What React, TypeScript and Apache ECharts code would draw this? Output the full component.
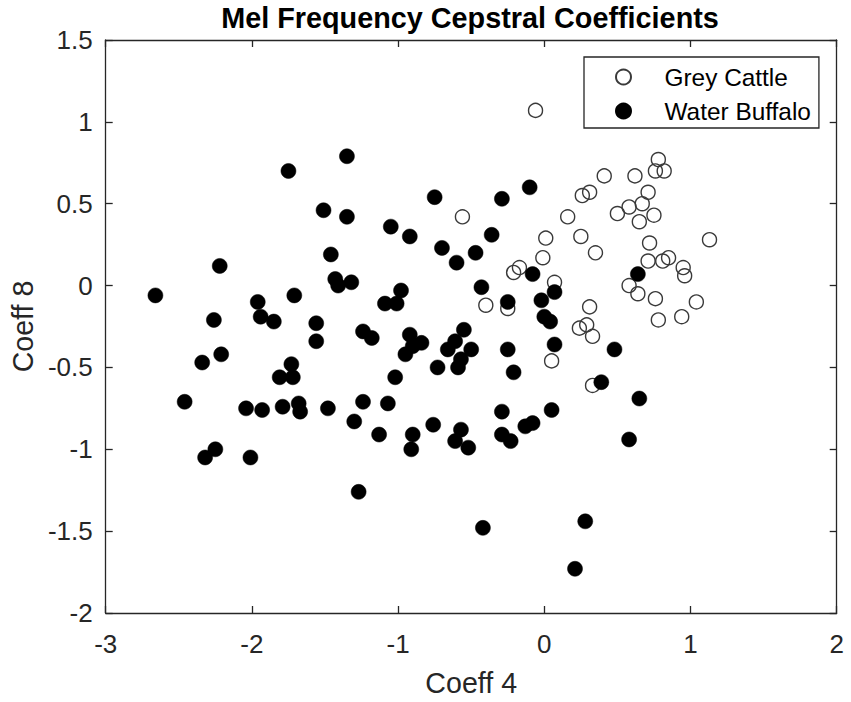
import React, { useEffect, useRef } from "react";
import * as echarts from "echarts";

const TITLE = "Mel Frequency Cepstral Coefficients";
const X_NAME = "Coeff 4";
const Y_NAME = "Coeff 8";
const SERIES_NAMES = ["Grey Cattle", "Water Buffalo"];

const X_MIN = -3;
const X_MAX = 2;
const X_STEP = 1;
const Y_MIN = -2;
const Y_MAX = 1.5;
const Y_STEP = 0.5;

const greyX = [
  -0.06, -0.56, -0.4, -0.25, -0.21, -0.17, 0.07, 0.05, 0.24, 0.26, 0.31, 0.25,
  0.16, 0.01, -0.01, 0.78, 0.76, 0.82, 0.41, 0.62, 0.71, 0.67, 0.58, 0.5, 0.65,
  0.75, 0.35, 0.72, 1.13, 0.71, 0.81, 0.85, 0.95, 0.96, 0.58, 0.64, 0.76, 1.04,
  0.78, 0.94, 0.31, 0.29, 0.33, 0.33,
];
const greyY = [
  1.07, 0.42, -0.12, -0.14, 0.08, 0.11, 0.02, -0.46, -0.26, 0.55, 0.57, 0.3,
  0.42, 0.29, 0.17, 0.77, 0.7, 0.7, 0.67, 0.67, 0.57, 0.5, 0.48, 0.44, 0.39,
  0.43, 0.2, 0.26, 0.28, 0.15, 0.15, 0.17, 0.11, 0.06, 0.0, -0.05, -0.08, -0.1,
  -0.21, -0.19, -0.13, -0.24, -0.31, -0.61,
];

const buffaloX = [
  -1.35, -1.75, -1.51, -1.35, -1.46, -1.43, -1.41, -1.32, -2.22, -2.66, -1.96,
  -1.71, -1.94, -1.85, -2.26, -1.56, -1.56, -2.34, -2.21, -1.73, -1.81, -1.72,
  -2.46, -2.04, -1.93, -1.79, -1.68, -1.67, -1.48, -1.3, -2.25, -2.32, -2.01,
  -0.75, -0.29, -0.1, -1.05, -0.92, -0.7, -0.6, -0.47, -0.36, -0.43, -0.25,
  -0.08, -0.02, 0.0, 0.04, 0.07, 0.07, -1.24, -1.18, -0.92, -0.84, -0.95, -0.9,
  -1.09, -1.01, -0.98, -0.55, -0.61, -0.66, -0.5, -0.57, -0.59, -0.73, -1.02,
  -0.25, -0.21, -1.24, -1.07, -1.13, -0.9, -0.91, -0.76, -0.57, -0.61, -0.52,
  -0.29, -0.29, -0.23, -0.13, -0.08, 0.05, 0.39, 0.48, 0.65, 0.64, 0.58, -0.42,
  0.28, 0.21, -1.27,
];
const buffaloY = [
  0.79, 0.7, 0.46, 0.42, 0.19, 0.04, 0.0, 0.02, 0.12, -0.06, -0.1, -0.06, -0.19,
  -0.22, -0.21, -0.23, -0.34, -0.47, -0.42, -0.48, -0.56, -0.56, -0.71, -0.75,
  -0.76, -0.74, -0.72, -0.77, -0.75, -0.83, -1.0, -1.05, -1.05, 0.54, 0.53, 0.6,
  0.36, 0.3, 0.23, 0.14, 0.2, 0.31, -0.01, -0.1, 0.07, -0.09, -0.19, -0.22,
  -0.04, -0.36, -0.28, -0.32, -0.3, -0.35, -0.42, -0.37, -0.11, -0.11, -0.03,
  -0.27, -0.34, -0.39, -0.39, -0.45, -0.5, -0.5, -0.56, -0.39, -0.53, -0.71,
  -0.72, -0.91, -0.91, -1.0, -0.85, -0.88, -0.95, -0.99, -0.77, -0.91, -0.95,
  -0.86, -0.84, -0.76, -0.59, -0.39, -0.69, 0.07, -0.94, -1.48, -1.44, -1.73,
  -1.26,
];

const FONT = "'Liberation Sans', Arial, Helvetica, sans-serif";
const AXIS_COLOR = "#262626";

function pairs(xs: number[], ys: number[]) {
  return xs.map((x, i) => [x, ys[i]]);
}

export default function App() {
  const ref = useRef<HTMLDivElement>(null);

  useEffect(() => {
    if (!ref.current) return;
    const chart = echarts.init(ref.current, undefined, { renderer: "svg" });

    const axisLine = { show: true, onZero: false, lineStyle: { color: AXIS_COLOR, width: 1.3 } };
    const axisTick = { show: true, inside: true, length: 7, lineStyle: { color: AXIS_COLOR, width: 1.3 } };

    const xBase = {
      type: "value" as const,
      min: X_MIN,
      max: X_MAX,
      interval: X_STEP,
      axisLine,
      axisTick,
      splitLine: { show: false },
    };
    const yBase = {
      type: "value" as const,
      min: Y_MIN,
      max: Y_MAX,
      interval: Y_STEP,
      axisLine,
      axisTick,
      splitLine: { show: false },
    };

    chart.setOption({
      animation: false,
      backgroundColor: "#ffffff",
      textStyle: { fontFamily: FONT },
      grid: { left: 101.7, right: 14.3, top: 40, bottom: 89, containLabel: false },
      graphic: [
        {
          type: "text",
          x: 470,
          y: 18,
          style: {
            text: TITLE,
            fill: "#000000",
            font: `bold 28.8px ${FONT}`,
            align: "center",
            verticalAlign: "middle",
          },
        },
      ],
      legend: {
        orient: "vertical",
        left: 584,
        top: 57,
        padding: [8, 8, 5, 31],
        itemGap: 10,
        itemWidth: 72,
        itemHeight: 15,
        backgroundColor: "#ffffff",
        borderColor: AXIS_COLOR,
        borderWidth: 1.3,
        borderRadius: 0,
        data: SERIES_NAMES,
        textStyle: { fontSize: 24.4, color: "#000000", fontFamily: FONT },
      },
      xAxis: [
        {
          ...xBase,
          position: "bottom",
          axisLabel: { show: true, fontSize: 26, color: AXIS_COLOR, margin: 18, fontFamily: FONT },
          name: X_NAME,
          nameLocation: "middle",
          nameGap: 55,
          nameTextStyle: { fontSize: 28.6, color: AXIS_COLOR, fontFamily: FONT },
        },
        {
          ...xBase,
          position: "top",
          axisLabel: { show: false },
        },
      ],
      yAxis: [
        {
          ...yBase,
          position: "left",
          axisLabel: { show: true, fontSize: 26, color: AXIS_COLOR, margin: 13, fontFamily: FONT },
          name: Y_NAME,
          nameLocation: "middle",
          nameGap: 67,
          nameRotate: 90,
          nameTextStyle: { fontSize: 28.6, color: AXIS_COLOR, fontFamily: FONT },
        },
        {
          ...yBase,
          position: "right",
          axisLabel: { show: false },
        },
      ],
      series: [
        {
          name: SERIES_NAMES[0],
          type: "scatter",
          xAxisIndex: 0,
          yAxisIndex: 0,
          symbol: "circle",
          symbolSize: 14,
          itemStyle: { color: "transparent", borderColor: "#3a3a3a", borderWidth: 1.4, opacity: 1 },
          data: pairs(greyX, greyY),
        },
        {
          name: SERIES_NAMES[1],
          type: "scatter",
          xAxisIndex: 0,
          yAxisIndex: 0,
          symbol: "circle",
          symbolSize: 15,
          itemStyle: { color: "#000000", borderColor: "#000000", borderWidth: 0.5, opacity: 1 },
          data: pairs(buffaloX, buffaloY),
        },
      ],
    });

    return () => chart.dispose();
  }, []);

  return (
    <div
      ref={ref}
      style={{ position: "fixed", left: 0, top: 0, width: 851, height: 702, background: "#fff" }}
    />
  );
}
